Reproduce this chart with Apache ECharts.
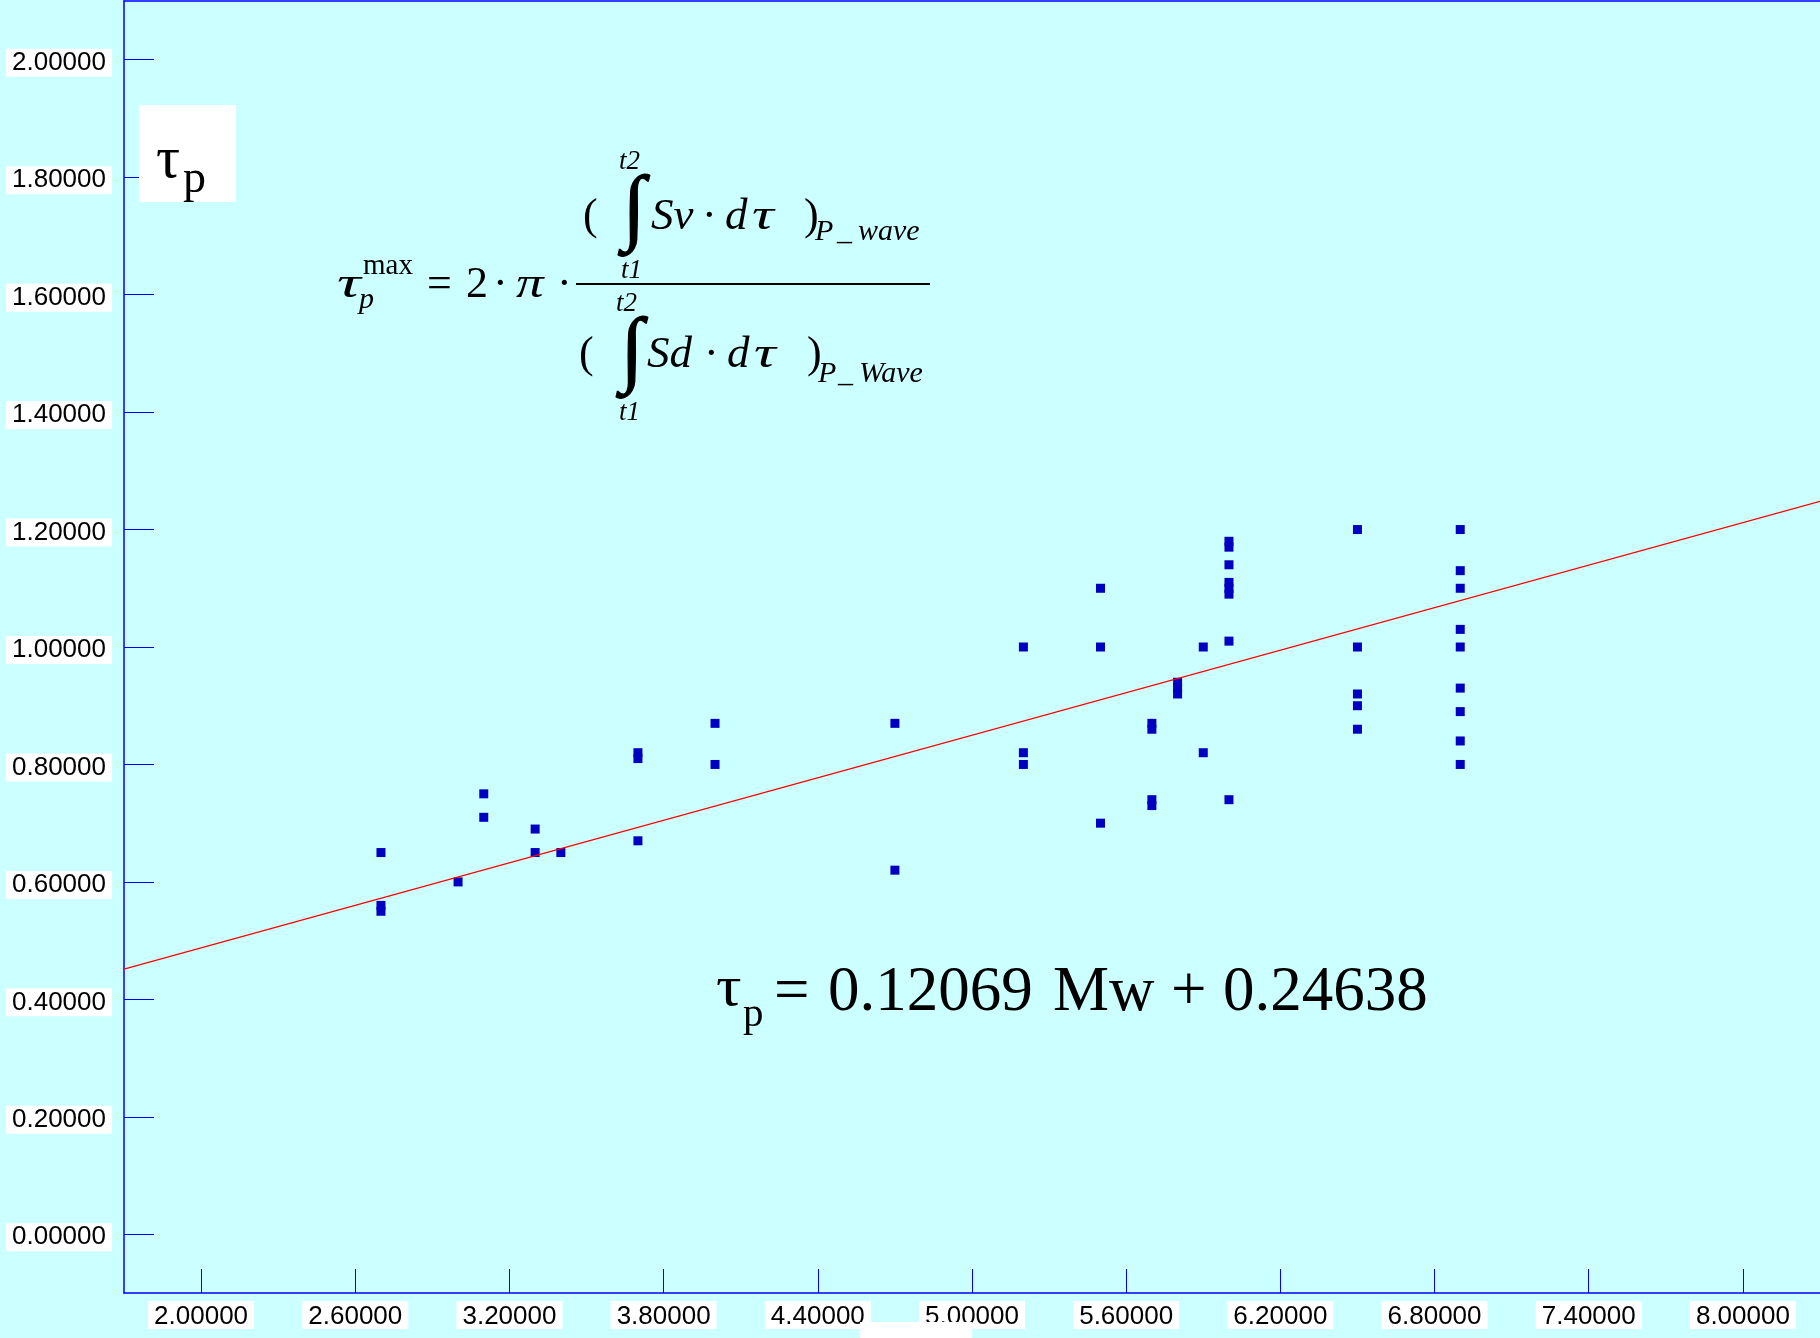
<!DOCTYPE html>
<html><head><meta charset="utf-8">
<script src="https://cdn.jsdelivr.net/npm/echarts@6/dist/echarts.min.js"></script>
<style>html,body{margin:0;padding:0;background:#ccffff}#c{width:1820px;height:1338px}</style>
</head><body><div id="c"></div>
<script>
// ---- data ----
const mwValues  = [2.7,2.7,2.7, 3.0, 3.1,3.1, 3.3,3.3, 3.4, 3.7,3.7,3.7, 4.0,4.0, 4.7,4.7,
                   5.2,5.2,5.2, 5.5,5.5,5.5, 5.7,5.7,5.7,5.7, 5.8,5.8,5.8, 5.9,5.9,
                   6.0,6.0,6.0,6.0,6.0,6.0,6.0,6.0, 6.5,6.5,6.5,6.5,6.5,
                   6.9,6.9,6.9,6.9,6.9,6.9,6.9,6.9,6.9];
const tauValues = [0.65,0.56,0.55, 0.60, 0.75,0.71, 0.69,0.65, 0.65, 0.82,0.81,0.67, 0.87,0.80, 0.87,0.62,
                   1.00,0.82,0.80, 1.10,1.00,0.70, 0.87,0.86,0.74,0.73, 0.94,0.93,0.92, 1.00,0.82,
                   1.18,1.17,1.14,1.11,1.10,1.09,1.01,0.74, 1.20,1.00,0.92,0.90,0.86,
                   1.20,1.13,1.10,1.03,1.00,0.93,0.89,0.84,0.80];
const fitMw  = [1.7, 8.3];
const fitTau = [0.4515, 1.2481];
const xTicks = [2.0, 2.6, 3.2, 3.8, 4.4, 5.0, 5.6, 6.2, 6.8, 7.4, 8.0];
const yTicks = [0.0, 0.2, 0.4, 0.6, 0.8, 1.0, 1.2, 1.4, 1.6, 1.8, 2.0];

const X_MIN = 1.7, X_MAX = 8.3, Y_MIN = -0.1, Y_MAX = 2.1;
const Y_LABEL_SHIFT = 3 / 587.3;   // tick labels sit ~3px below their ticks in the reference

const scatterData = mwValues.map((m, i) => [m, tauValues[i]]);
const fitData = fitMw.map((m, i) => [m, fitTau[i]]);

const SERIF = '"Liberation Serif", "Times New Roman", serif';
function txt(text, x, baseline, fs, italic, extra) {
  const el = {
    type: 'text', x: x, y: baseline - 0.27 * fs, z: 50,
    style: { text: text, fill: '#000', fontSize: fs, fontFamily: SERIF,
             fontStyle: italic ? 'italic' : 'normal',
             align: 'left', textAlign: 'left', verticalAlign: 'middle', textVerticalAlign: 'middle' }
  };
  if (extra && extra.scaleX) { el.scaleX = extra.scaleX; el.originX = 0; el.originY = 0; }
  return el;
}
function integ(xc, yc, fs) {
  return {
    type: 'text', x: xc, y: yc, z: 50,
    style: { text: '\u222B', fill: '#000', stroke: '#000', lineWidth: 1.2, fontSize: fs, fontFamily: SERIF,
             align: 'center', textAlign: 'center', verticalAlign: 'middle', textVerticalAlign: 'middle' }
  };
}

const labelStyle = {
  color: '#000', fontFamily: '"Liberation Sans", Arial, sans-serif', fontSize: 26, lineHeight: 24,
  backgroundColor: '#ffffff', padding: [4, 6, 0, 6],
  formatter: v => Number(v).toFixed(5)
};

const graphics = [
  // tau_p label box
  { type: 'rect', z: 40, shape: { x: 139, y: 105, width: 97, height: 97 }, style: { fill: '#ffffff' } },
  txt('\u03C4', 156, 177, 60, false),
  txt('p', 183, 192, 46, false),
  // formula, main row
  txt('\u03C4', 337, 297, 44, true, { scaleX: 1.5 }),
  txt('max', 363, 274, 29, false),
  txt('p', 359, 308, 30, true),
  txt('=', 427, 297, 44, false),
  txt('2', 466, 297, 44, false),
  txt('\u00B7', 493, 297, 44, false),
  txt('\u03C0', 516, 297, 44, true, { scaleX: 1.25 }),
  txt('\u00B7', 557, 297, 44, false),
  { type: 'line', z: 50, shape: { x1: 576, y1: 284, x2: 930, y2: 284 }, style: { stroke: '#000', lineWidth: 2 } },
  // numerator
  txt('(', 583, 229, 44, false),
  integ(634, 212, 84),
  txt('t2', 619, 169, 27, true),
  txt('t1', 621, 278, 27, true),
  txt('Sv', 651, 229, 45, true),
  txt('\u00B7', 702, 229, 44, false),
  txt('d', 725, 229, 45, true),
  txt('\u03C4', 752, 229, 45, true, { scaleX: 1.35 }),
  txt(')', 804, 229, 44, false),
  txt('P', 815, 240, 30, true),
  txt('_', 837, 240, 30, true),
  txt('wave', 858, 240, 30, true),
  // denominator
  txt('(', 579, 367, 44, false),
  integ(632, 354, 84),
  txt('t2', 616, 311, 27, true),
  txt('t1', 619, 420, 27, true),
  txt('Sd', 647, 367, 45, true),
  txt('\u00B7', 704, 367, 44, false),
  txt('d', 727, 367, 45, true),
  txt('\u03C4', 754, 367, 45, true, { scaleX: 1.35 }),
  txt(')', 807, 367, 44, false),
  txt('P', 818, 382, 30, true),
  txt('_', 838, 382, 30, true),
  txt('Wave', 859, 382, 30, true),
  // regression equation
  txt('\u03C4', 716, 1005, 58, false, { scaleX: 1.1 }),
  txt('p', 743, 1026, 41, false),
  txt('=', 774, 1010, 63, false),
  txt('0.12069', 828, 1010, 63, false),
  txt('Mw', 1053, 1010, 63, false),
  txt('+', 1171, 1010, 63, false),
  txt('0.24638', 1223, 1010, 63, false),
  // clipped white box at the bottom edge
  { type: 'rect', z: 100, shape: { x: 860, y: 1322, width: 112, height: 20 }, style: { fill: '#ffffff' } }
];

const blueLine = { color: '#0000ff', width: 1.5 };
const chart = echarts.init(document.getElementById('c'), null, { renderer: 'canvas' });
chart.setOption({
  backgroundColor: '#ccffff',
  animation: false,
  grid: { left: 124, right: 0, top: 1, bottom: 45, containLabel: false },
  xAxis: [{
    type: 'value', min: X_MIN, max: X_MAX, position: 'bottom',
    axisLine: { onZero: false, lineStyle: blueLine },
    axisTick: { show: true, inside: true, length: 24, customValues: xTicks, lineStyle: { color: '#0000ff', width: 1 } },
    axisLabel: Object.assign({ customValues: xTicks, margin: 8 }, labelStyle),
    splitLine: { show: false }
  }, {
    type: 'value', min: X_MIN, max: X_MAX, position: 'top',
    axisLine: { onZero: false, lineStyle: blueLine },
    axisTick: { show: false }, axisLabel: { show: false }, splitLine: { show: false }
  }],
  yAxis: [{
    type: 'value', min: Y_MIN, max: Y_MAX, position: 'left',
    axisLine: { onZero: false, lineStyle: blueLine },
    axisTick: { show: true, inside: true, length: 30, customValues: yTicks, lineStyle: { color: '#0000ff', width: 1 } },
    axisLabel: { show: false },
    splitLine: { show: false }
  }, {
    // label-only axis, nudged by a few pixels like the reference labels
    type: 'value', min: Y_MIN + Y_LABEL_SHIFT, max: Y_MAX + Y_LABEL_SHIFT, position: 'left', offset: 0,
    axisLine: { show: false }, axisTick: { show: false }, splitLine: { show: false },
    axisLabel: Object.assign({ customValues: yTicks, margin: 12 }, labelStyle)
  }],
  series: [{
    type: 'scatter', data: scatterData, symbol: 'rect', symbolSize: 9,
    itemStyle: { color: '#0000c0', opacity: 1 }, z: 3
  }, {
    type: 'line', data: fitData, showSymbol: false, symbol: 'none',
    lineStyle: { color: '#ff0000', width: 1.2 }, z: 4
  }],
  graphic: graphics
});
</script>
</body></html>
